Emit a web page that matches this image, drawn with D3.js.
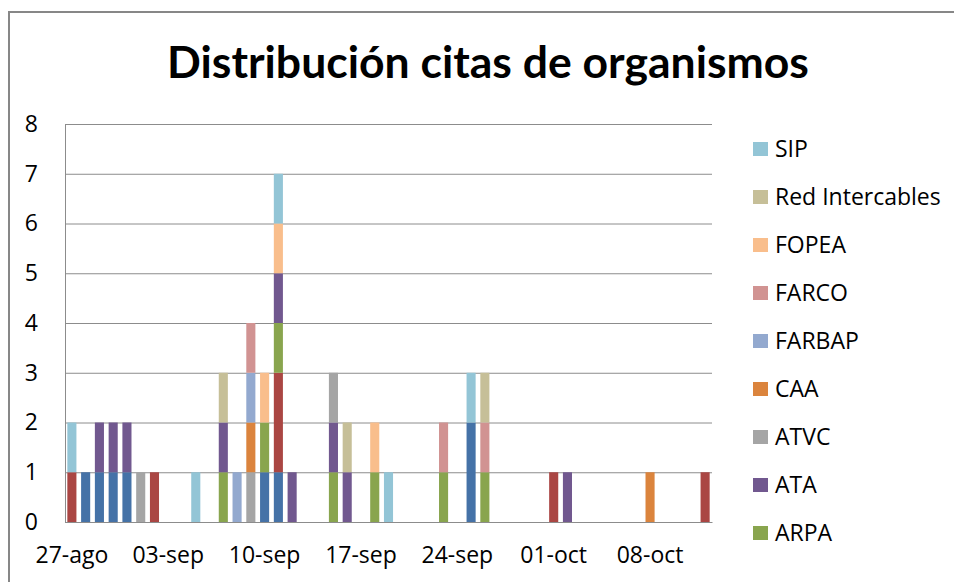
<!DOCTYPE html>
<html>
<head>
<meta charset="utf-8">
<script src="https://cdn.jsdelivr.net/npm/d3@7"></script>
<style>
  body { margin: 0; background: #fff; }
  svg { display: block; font-family: "Open Sans", Lato, sans-serif; }
</style>
</head>
<body>
<svg id="chart" width="954" height="582"></svg>
<script>
// Days shown on the axis: 27-ago .. 12-oct (one category per day)
var firstDay = new Date(2012, 7, 27);
var dayCount = 47;

// Citas por organismo y día (index 0 = 27-ago)
var ADEPA  = [0,1,1,1,1,0,0,0,0,0,0,0,0,0,1,1,0,0,0,0,0,0,0,0,0,0,0,0,0,2,0,0,0,0,0,0,0,0,0,0,0,0,0,0,0,0,0];
var AFSCA  = [1,0,0,0,0,0,1,0,0,0,0,0,0,0,0,2,0,0,0,0,0,0,0,0,0,0,0,0,0,0,0,0,0,0,0,1,0,0,0,0,0,0,0,0,0,0,1];
var ARPA   = [0,0,0,0,0,0,0,0,0,0,0,1,0,0,1,1,0,0,0,1,0,0,1,0,0,0,0,1,0,0,1,0,0,0,0,0,0,0,0,0,0,0,0,0,0,0,0];
var ATA    = [0,0,1,1,1,0,0,0,0,0,0,1,0,0,0,1,1,0,0,1,1,0,0,0,0,0,0,0,0,0,0,0,0,0,0,0,1,0,0,0,0,0,0,0,0,0,0];
var ATVC   = [0,0,0,0,0,1,0,0,0,0,0,0,0,1,0,0,0,0,0,1,0,0,0,0,0,0,0,0,0,0,0,0,0,0,0,0,0,0,0,0,0,0,0,0,0,0,0];
var CAA    = [0,0,0,0,0,0,0,0,0,0,0,0,0,1,0,0,0,0,0,0,0,0,0,0,0,0,0,0,0,0,0,0,0,0,0,0,0,0,0,0,0,0,1,0,0,0,0];
var FARBAP = [0,0,0,0,0,0,0,0,0,0,0,0,1,1,0,0,0,0,0,0,0,0,0,0,0,0,0,0,0,0,0,0,0,0,0,0,0,0,0,0,0,0,0,0,0,0,0];
var FARCO  = [0,0,0,0,0,0,0,0,0,0,0,0,0,1,0,0,0,0,0,0,0,0,0,0,0,0,0,1,0,0,1,0,0,0,0,0,0,0,0,0,0,0,0,0,0,0,0];
var FOPEA  = [0,0,0,0,0,0,0,0,0,0,0,0,0,0,1,1,0,0,0,0,0,0,1,0,0,0,0,0,0,0,0,0,0,0,0,0,0,0,0,0,0,0,0,0,0,0,0];
var REDINT = [0,0,0,0,0,0,0,0,0,0,0,1,0,0,0,0,0,0,0,0,1,0,0,0,0,0,0,0,0,0,1,0,0,0,0,0,0,0,0,0,0,0,0,0,0,0,0];
var SIP    = [1,0,0,0,0,0,0,0,0,1,0,0,0,0,0,1,0,0,0,0,0,0,0,1,0,0,0,0,0,1,0,0,0,0,0,0,0,0,0,0,0,0,0,0,0,0,0];

// series in stacking order (bottom first)
var seriesNames = ["ADEPA", "AFSCA", "ARPA", "ATA", "ATVC", "CAA", "FARBAP", "FARCO", "FOPEA", "Red Intercables", "SIP"];
var seriesValues = [ADEPA, AFSCA, ARPA, ATA, ATVC, CAA, FARBAP, FARCO, FOPEA, REDINT, SIP];
var seriesColors = ["#4572A7", "#AA4643", "#89A54E", "#71588F", "#A5A5A5", "#DB843D",
                    "#93A9CF", "#D19392", "#F9BE8C", "#C6BF98", "#93C5D6"];

var yTicks = [0, 1, 2, 3, 4, 5, 6, 7, 8];
var labelEvery = 7;

var titleText = "Distribución citas de organismos";

var svg = d3.select("#chart");

// Plot area
var plot = {left: 65, top: 124, right: 712, bottom: 522};
var labelSize = 23;

var days = d3.range(dayCount).map(function(i) { return d3.timeDay.offset(firstDay, i); });

var table = days.map(function(d, i) {
    var row = {day: d};
    seriesNames.forEach(function(name, k) { row[name] = seriesValues[k][i]; });
    return row;
});

var es = d3.timeFormatLocale({
    dateTime: "%A, %e de %B de %Y, %X", date: "%d/%m/%Y", time: "%H:%M:%S",
    periods: ["AM", "PM"],
    days: ["domingo","lunes","martes","miércoles","jueves","viernes","sábado"],
    shortDays: ["dom","lun","mar","mié","jue","vie","sáb"],
    months: ["enero","febrero","marzo","abril","mayo","junio","julio","agosto","septiembre","octubre","noviembre","diciembre"],
    shortMonths: ["ene","feb","mar","abr","may","jun","jul","ago","sep","oct","nov","dic"]
});
var fmt = es.format("%d-%b");

var x = d3.scaleBand()
    .domain(days)
    .range([plot.left, plot.right])
    .paddingInner(0.34)
    .paddingOuter(0.17);

var y = d3.scaleLinear()
    .domain([0, 8])
    .range([plot.bottom, plot.top]);

var color = d3.scaleOrdinal().domain(seriesNames).range(seriesColors);

var stack = d3.stack().keys(seriesNames);
var layers = stack(table);

// outer chart border (the picture is cropped on the right and bottom)
svg.append("rect")
    .attr("x", 9).attr("y", 12)
    .attr("width", 1000).attr("height", 700)
    .attr("fill", "none")
    .attr("stroke", "#878787")
    .attr("stroke-width", 2);

// Title
svg.append("text")
    .attr("x", 488).attr("y", 78)
    .attr("text-anchor", "middle")
    .attr("font-family", "Lato")
    .attr("font-weight", "bold")
    .attr("font-size", 44.5)
    .attr("fill", "#000")
    .text(titleText);

// gridlines
svg.append("g")
    .selectAll("line")
    .data(yTicks)
    .join("line")
    .attr("x1", plot.left).attr("x2", plot.right)
    .attr("y1", function(d) { return y(d) + 0.5; })
    .attr("y2", function(d) { return y(d) + 0.5; })
    .attr("stroke", "#8c8c8c")
    .attr("stroke-width", 1);

// y axis
var yAxis = svg.append("g")
    .attr("transform", "translate(" + plot.left + ",0)")
    .call(d3.axisLeft(y).tickValues(yTicks).tickSize(0).tickPadding(27).tickFormat(d3.format("d")));
yAxis.select(".domain").attr("stroke", "#8c8c8c");
yAxis.selectAll("text").attr("font-size", labelSize).attr("fill", "#000").attr("font-family", "Open Sans");

// bars
svg.append("g")
    .selectAll("g")
    .data(layers)
    .join("g")
    .attr("fill", function(d) { return color(d.key); })
    .selectAll("rect")
    .data(function(d) { return d.filter(function(s) { return s[1] > s[0]; }); })
    .join("rect")
    .attr("x", function(d) { return x(d.data.day); })
    .attr("width", x.bandwidth())
    .attr("y", function(d) { return y(d[1]); })
    .attr("height", function(d) { return y(d[0]) - y(d[1]); });

// x axis
var xAxis = svg.append("g")
    .attr("transform", "translate(0," + plot.bottom + ")")
    .call(d3.axisBottom(x)
        .tickValues(days.filter(function(d, i) { return i % labelEvery === 0; }))
        .tickSize(0).tickPadding(25)
        .tickFormat(fmt));
xAxis.select(".domain").attr("stroke", "#8c8c8c");
xAxis.selectAll("text").attr("font-size", labelSize).attr("fill", "#000").attr("font-family", "Open Sans");

// legend (top series first, entries that do not fit are dropped)
var legendTop = 149, legendStep = 48, legendLimit = 560;
var legendItems = seriesNames.slice().reverse().filter(function(d, i) {
    return legendTop + i * legendStep < legendLimit;
});
var legend = svg.append("g")
    .selectAll("g")
    .data(legendItems)
    .join("g")
    .attr("transform", function(d, i) { return "translate(753," + (legendTop + i * legendStep) + ")"; });
legend.append("rect")
    .attr("x", 0).attr("y", -7)
    .attr("width", 15).attr("height", 14)
    .attr("fill", function(d) { return color(d); });
legend.append("text")
    .attr("x", 22).attr("y", 0)
    .attr("dy", "0.35em")
    .attr("font-size", labelSize)
    .attr("fill", "#000")
    .text(function(d) { return d; });
</script>
</body>
</html>
